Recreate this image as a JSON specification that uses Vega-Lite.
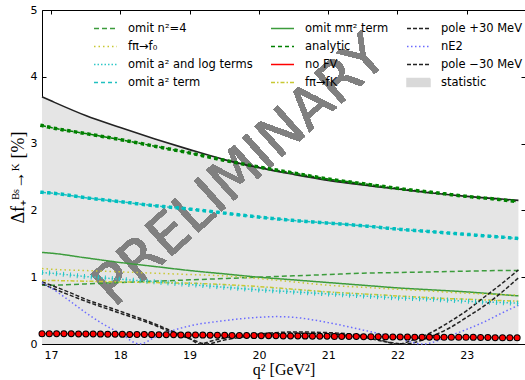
{
  "$schema": "https://vega.github.io/schema/vega-lite/v6.json",
  "autosize": {"type": "none"},
  "width": 483,
  "height": 334,
  "padding": {"left": 42, "top": 10, "right": 0, "bottom": 36},
  "background": "white",
  "config": {
    "view": {"stroke": null},
    "axis": {"domainColor": "black", "tickColor": "black", "labelColor": "black", "labelFont": "DejaVu Sans", "labelFontSize": 11, "grid": false, "titleColor": "black", "tickSize": -4, "labelFlush": false}
  },
  "datasets": {
    "d": [
      {"s":"st","x":16.87,"y":3.70},{"s":"st","x":17,"y":3.64},{"s":"st","x":17.5,"y":3.42},{"s":"st","x":18,"y":3.24},{"s":"st","x":18.5,"y":3.07},{"s":"st","x":19,"y":2.91},{"s":"st","x":19.5,"y":2.76},{"s":"st","x":20,"y":2.64},{"s":"st","x":20.5,"y":2.54},{"s":"st","x":21,"y":2.45},{"s":"st","x":21.5,"y":2.38},{"s":"st","x":22,"y":2.32},{"s":"st","x":22.5,"y":2.26},{"s":"st","x":23,"y":2.21},{"s":"st","x":23.5,"y":2.17},{"s":"st","x":23.745,"y":2.15},
      {"s":"an","x":16.87,"y":3.27},{"s":"an","x":17,"y":3.24},{"s":"an","x":17.5,"y":3.15},{"s":"an","x":18,"y":3.06},{"s":"an","x":18.5,"y":2.96},{"s":"an","x":19,"y":2.86},{"s":"an","x":19.5,"y":2.75},{"s":"an","x":20,"y":2.65},{"s":"an","x":20.5,"y":2.56},{"s":"an","x":21,"y":2.47},{"s":"an","x":21.5,"y":2.40},{"s":"an","x":22,"y":2.33},{"s":"an","x":22.5,"y":2.27},{"s":"an","x":23,"y":2.21},{"s":"an","x":23.5,"y":2.16},{"s":"an","x":23.745,"y":2.13},
      {"s":"a2","x":16.87,"y":2.27},{"s":"a2","x":17,"y":2.26},{"s":"a2","x":17.5,"y":2.19},{"s":"a2","x":18,"y":2.13},{"s":"a2","x":18.5,"y":2.07},{"s":"a2","x":19,"y":2.02},{"s":"a2","x":19.5,"y":1.96},{"s":"a2","x":20,"y":1.90},{"s":"a2","x":20.5,"y":1.85},{"s":"a2","x":21,"y":1.81},{"s":"a2","x":21.5,"y":1.77},{"s":"a2","x":22,"y":1.72},{"s":"a2","x":22.5,"y":1.68},{"s":"a2","x":23,"y":1.64},{"s":"a2","x":23.5,"y":1.60},{"s":"a2","x":23.745,"y":1.58},
      {"s":"mp","x":16.87,"y":1.37},{"s":"mp","x":17,"y":1.36},{"s":"mp","x":17.5,"y":1.29},{"s":"mp","x":18,"y":1.22},{"s":"mp","x":18.5,"y":1.16},{"s":"mp","x":19,"y":1.10},{"s":"mp","x":19.5,"y":1.05},{"s":"mp","x":20,"y":1.00},{"s":"mp","x":20.5,"y":0.96},{"s":"mp","x":21,"y":0.92},{"s":"mp","x":21.5,"y":0.88},{"s":"mp","x":22,"y":0.84},{"s":"mp","x":22.5,"y":0.81},{"s":"mp","x":23,"y":0.78},{"s":"mp","x":23.5,"y":0.74},{"s":"mp","x":23.745,"y":0.72},
      {"s":"n2","x":16.87,"y":0.88},{"s":"n2","x":17,"y":0.88},{"s":"n2","x":17.5,"y":0.90},{"s":"n2","x":18,"y":0.92},{"s":"n2","x":18.5,"y":0.94},{"s":"n2","x":19,"y":0.96},{"s":"n2","x":19.5,"y":0.98},{"s":"n2","x":20,"y":1.00},{"s":"n2","x":20.5,"y":1.02},{"s":"n2","x":21,"y":1.04},{"s":"n2","x":21.5,"y":1.06},{"s":"n2","x":22,"y":1.07},{"s":"n2","x":22.5,"y":1.08},{"s":"n2","x":23,"y":1.09},{"s":"n2","x":23.5,"y":1.10},{"s":"n2","x":23.745,"y":1.10},
      {"s":"al","x":16.87,"y":1.07},{"s":"al","x":17,"y":1.06},{"s":"al","x":17.5,"y":1.01},{"s":"al","x":18,"y":0.97},{"s":"al","x":18.5,"y":0.93},{"s":"al","x":19,"y":0.89},{"s":"al","x":19.5,"y":0.85},{"s":"al","x":20,"y":0.81},{"s":"al","x":20.5,"y":0.78},{"s":"al","x":21,"y":0.75},{"s":"al","x":21.5,"y":0.72},{"s":"al","x":22,"y":0.69},{"s":"al","x":22.5,"y":0.67},{"s":"al","x":23,"y":0.64},{"s":"al","x":23.5,"y":0.62},{"s":"al","x":23.745,"y":0.61},
      {"s":"f0","x":16.87,"y":1.13},{"s":"f0","x":17,"y":1.12},{"s":"f0","x":17.5,"y":1.10},{"s":"f0","x":18,"y":1.08},{"s":"f0","x":18.5,"y":1.06},{"s":"f0","x":19,"y":1.04},{"s":"f0","x":19.5,"y":1.02},{"s":"f0","x":20,"y":0.98},{"s":"f0","x":20.5,"y":0.93},{"s":"f0","x":21,"y":0.88},{"s":"f0","x":21.5,"y":0.85},{"s":"f0","x":22,"y":0.82},{"s":"f0","x":22.5,"y":0.79},{"s":"f0","x":23,"y":0.76},{"s":"f0","x":23.5,"y":0.74},{"s":"f0","x":23.745,"y":0.73},
      {"s":"fk","x":16.87,"y":0.95},{"s":"fk","x":17,"y":0.95},{"s":"fk","x":17.5,"y":0.94},{"s":"fk","x":18,"y":0.93},{"s":"fk","x":18.5,"y":0.92},{"s":"fk","x":19,"y":0.91},{"s":"fk","x":19.5,"y":0.89},{"s":"fk","x":20,"y":0.86},{"s":"fk","x":20.5,"y":0.82},{"s":"fk","x":21,"y":0.78},{"s":"fk","x":21.5,"y":0.75},{"s":"fk","x":22,"y":0.72},{"s":"fk","x":22.5,"y":0.69},{"s":"fk","x":23,"y":0.67},{"s":"fk","x":23.5,"y":0.65},{"s":"fk","x":23.745,"y":0.64},
      {"s":"nf","x":16.87,"y":0.155},{"s":"nf","x":17,"y":0.155},{"s":"nf","x":17.5,"y":0.15},{"s":"nf","x":18,"y":0.145},{"s":"nf","x":18.5,"y":0.14},{"s":"nf","x":19,"y":0.135},{"s":"nf","x":19.5,"y":0.13},{"s":"nf","x":20,"y":0.125},{"s":"nf","x":20.5,"y":0.12},{"s":"nf","x":21,"y":0.115},{"s":"nf","x":21.5,"y":0.11},{"s":"nf","x":22,"y":0.105},{"s":"nf","x":22.5,"y":0.10},{"s":"nf","x":23,"y":0.10},{"s":"nf","x":23.5,"y":0.095},{"s":"nf","x":23.745,"y":0.095},
      {"s":"pp","x":16.87,"y":0.93},{"s":"pp","x":17.25,"y":0.78},{"s":"pp","x":17.5,"y":0.67},{"s":"pp","x":18,"y":0.49},{"s":"pp","x":18.5,"y":0.30},{"s":"pp","x":18.75,"y":0.19},{"s":"pp","x":19,"y":0.08},{"s":"pp","x":19.15,"y":0.0},{"s":"pp","x":19.3,"y":0.04},{"s":"pp","x":19.5,"y":0.09},{"s":"pp","x":20,"y":0.15},{"s":"pp","x":20.5,"y":0.18},{"s":"pp","x":21,"y":0.17},{"s":"pp","x":21.5,"y":0.12},{"s":"pp","x":21.75,"y":0.06},{"s":"pp","x":22,"y":0.0},{"s":"pp","x":22.25,"y":0.07},{"s":"pp","x":22.5,"y":0.18},{"s":"pp","x":22.75,"y":0.33},{"s":"pp","x":23,"y":0.50},{"s":"pp","x":23.25,"y":0.70},{"s":"pp","x":23.5,"y":0.90},{"s":"pp","x":23.745,"y":1.11},
      {"s":"pm","x":16.87,"y":0.90},{"s":"pm","x":17.25,"y":0.74},{"s":"pm","x":17.5,"y":0.64},{"s":"pm","x":18,"y":0.46},{"s":"pm","x":18.5,"y":0.28},{"s":"pm","x":18.75,"y":0.17},{"s":"pm","x":19,"y":0.08},{"s":"pm","x":19.25,"y":0.0},{"s":"pm","x":19.5,"y":0.06},{"s":"pm","x":20,"y":0.13},{"s":"pm","x":20.5,"y":0.16},{"s":"pm","x":21,"y":0.15},{"s":"pm","x":21.5,"y":0.10},{"s":"pm","x":21.85,"y":0.03},{"s":"pm","x":22.1,"y":0.0},{"s":"pm","x":22.5,"y":0.12},{"s":"pm","x":22.75,"y":0.24},{"s":"pm","x":23,"y":0.40},{"s":"pm","x":23.25,"y":0.57},{"s":"pm","x":23.5,"y":0.77},{"s":"pm","x":23.745,"y":0.99},
      {"s":"ne","x":16.87,"y":0.92},{"s":"ne","x":17,"y":0.84},{"s":"ne","x":17.25,"y":0.66},{"s":"ne","x":17.5,"y":0.47},{"s":"ne","x":17.75,"y":0.30},{"s":"ne","x":18,"y":0.16},{"s":"ne","x":18.28,"y":0.0},{"s":"ne","x":18.5,"y":0.10},{"s":"ne","x":18.75,"y":0.20},{"s":"ne","x":19,"y":0.27},{"s":"ne","x":19.5,"y":0.35},{"s":"ne","x":20,"y":0.40},{"s":"ne","x":20.25,"y":0.41},{"s":"ne","x":20.5,"y":0.40},{"s":"ne","x":21,"y":0.32},{"s":"ne","x":21.5,"y":0.21},{"s":"ne","x":22,"y":0.09},{"s":"ne","x":22.37,"y":0.0},{"s":"ne","x":22.75,"y":0.12},{"s":"ne","x":23,"y":0.22},{"s":"ne","x":23.25,"y":0.33},{"s":"ne","x":23.5,"y":0.46},{"s":"ne","x":23.745,"y":0.58}
    ]
  },
  "data": {"name": "d"},
  "layer": [
    {
      "transform": [{"filter": "datum.s === 'st'"}],
      "mark": {"type": "area", "color": "#e5e5e5", "interpolate": "monotone"},
      "encoding": {
        "x": {"field": "x", "type": "quantitative", "scale": {"domain": [16.87, 23.84], "nice": false, "zero": false},
          "axis": {"orient": "bottom", "values": [17, 18, 19, 20, 21, 22, 23], "title": "q² [GeV²]", "titleFont": "Liberation Serif", "titleFontSize": 16, "titleFontWeight": "normal", "titlePadding": 1, "labelPadding": 9}},
        "y": {"field": "y", "type": "quantitative", "scale": {"domain": [0, 5], "nice": false, "zero": false},
          "axis": {"orient": "left", "values": [0, 1, 2, 3, 4, 5], "title": "Δf₊ᴮˢ→ᴷ [%]", "titleFont": "Liberation Serif", "titleFontSize": 18, "titleFontWeight": "normal", "titlePadding": 3, "labelPadding": 9}}
      }
    },
    {
      "mark": {"type": "text", "text": "PRELIMINARY", "angle": -42, "fontSize": 56, "font": "DejaVu Sans", "color": "#808080", "opacity": 0.3, "align": "center", "baseline": "middle"},
      "encoding": {"x": {"datum": 19.73, "type": "quantitative", "axis": null}, "y": {"datum": 2.58, "type": "quantitative", "axis": null}}
    },
    {
      "mark": {"type": "point", "opacity": 0},
      "transform": [{"filter": "datum.s === 'st'"}],
      "encoding": {
        "x": {"field": "x", "type": "quantitative", "axis": {"orient": "top", "values": [17, 18, 19, 20, 21, 22, 23], "labels": false, "title": null}},
        "y": {"field": "y", "type": "quantitative", "axis": {"orient": "right", "values": [0, 1, 2, 3, 4, 5], "labels": false, "title": null, "domain": false}}
      }
    },
    {
      "transform": [{"filter": "datum.s !== 'st'"}],
      "mark": {"type": "line", "strokeWidth": 1.5, "interpolate": "monotone"},
      "encoding": {
        "x": {"field": "x", "type": "quantitative", "axis": null},
        "y": {"field": "y", "type": "quantitative", "axis": null},
        "color": {"field": "s", "type": "nominal",
          "scale": {"domain": ["n2", "f0", "al", "a2", "mp", "an", "nf", "fk", "pp", "ne", "pm", "st"],
            "range": ["#3c9c3c", "#c8c832", "#30c8c8", "#20c0c0", "#3c9c3c", "#008000", "#ff0000", "#c8c832", "#222222", "#6b6bff", "#222222", "#d9d9d9"]},
          "legend": {"orient": "none", "legendX": 51, "legendY": 6, "columns": 3, "columnPadding": 15, "rowPadding": -3, "symbolSize": 529, "symbolStrokeWidth": 1.5, "labelFont": "DejaVu Sans", "labelFontSize": 11.5, "labelColor": "black", "labelOffset": 10, "labelLimit": 300, "title": null,
            "labelExpr": "{'n2':'omit n²=4','mp':'omit mπ² term','pp':'pole +30 MeV','f0':'fπ→f₀','an':'analytic','ne':'nE2','al':'omit a² and log terms','nf':'no FV','pm':'pole −30 MeV','a2':'omit a² term','fk':'fπ→fK','st':'statistic'}[datum.value]",
            "encode": {"symbols": {"update": {"shape": {"signal": "datum.value === 'st' ? 'M-1,-0.35H1V0.35H-1Z' : 'stroke'"}, "fill": {"signal": "datum.value === 'st' ? '#d9d9d9' : 'transparent'"}}}}}},
        "strokeDash": {"field": "s", "type": "nominal",
          "scale": {"domain": ["n2", "f0", "al", "a2", "mp", "an", "nf", "fk", "pp", "ne", "pm", "st"],
            "range": [[5, 3], [1.5, 3], [1.5, 2], [4, 3], [1, 0], [4, 3], [1, 0], [4, 2, 1.5, 2], [4, 2], [1.5, 2.5], [4, 2], [1, 0]]},
          "legend": {"orient": "none", "legendX": 51, "legendY": 6, "columns": 3, "columnPadding": 15, "rowPadding": -3, "symbolSize": 529, "symbolStrokeWidth": 1.5, "labelFont": "DejaVu Sans", "labelFontSize": 11.5, "labelColor": "black", "labelOffset": 10, "labelLimit": 300, "title": null,
            "labelExpr": "{'n2':'omit n²=4','mp':'omit mπ² term','pp':'pole +30 MeV','f0':'fπ→f₀','an':'analytic','ne':'nE2','al':'omit a² and log terms','nf':'no FV','pm':'pole −30 MeV','a2':'omit a² term','fk':'fπ→fK','st':'statistic'}[datum.value]",
            "encode": {"symbols": {"update": {"shape": {"signal": "datum.value === 'st' ? 'M-1,-0.35H1V0.35H-1Z' : 'stroke'"}, "fill": {"signal": "datum.value === 'st' ? '#d9d9d9' : 'transparent'"}}}}}}
      }
    },
    {
      "transform": [{"filter": "datum.s === 'st'"}],
      "mark": {"type": "line", "color": "#222222", "strokeWidth": 1.6, "interpolate": "monotone"},
      "encoding": {"x": {"field": "x", "type": "quantitative", "axis": null}, "y": {"field": "y", "type": "quantitative", "axis": null}}
    },
    {
      "transform": [{"filter": "datum.s === 'an'"}],
      "mark": {"type": "line", "color": "#008000", "strokeWidth": 3.5, "strokeCap": "square", "strokeDash": [0.01, 6.8], "interpolate": "monotone"},
      "encoding": {"x": {"field": "x", "type": "quantitative", "axis": null}, "y": {"field": "y", "type": "quantitative", "axis": null}}
    },
    {
      "transform": [{"filter": "datum.s === 'a2'"}],
      "mark": {"type": "line", "color": "#00bfbf", "strokeWidth": 3.5, "strokeCap": "square", "strokeDash": [0.01, 6.8], "interpolate": "monotone"},
      "encoding": {"x": {"field": "x", "type": "quantitative", "axis": null}, "y": {"field": "y", "type": "quantitative", "axis": null}}
    },
    {
      "transform": [{"filter": "datum.s === 'al'"}],
      "mark": {"type": "line", "color": "#20c4c4", "strokeWidth": 5, "strokeCap": "butt", "strokeDash": [1, 6], "interpolate": "monotone"},
      "encoding": {"x": {"field": "x", "type": "quantitative", "axis": null}, "y": {"field": "y", "type": "quantitative", "axis": null}}
    },
    {
      "transform": [{"filter": "datum.s === 'nf'"}],
      "mark": {"type": "line", "color": "black", "strokeWidth": 7, "strokeCap": "round", "strokeDash": [0.01, 7.3], "interpolate": "monotone"},
      "encoding": {"x": {"field": "x", "type": "quantitative", "axis": null}, "y": {"field": "y", "type": "quantitative", "axis": null}}
    },
    {
      "transform": [{"filter": "datum.s === 'nf'"}],
      "mark": {"type": "line", "color": "#ff0000", "strokeWidth": 5, "strokeCap": "round", "strokeDash": [0.01, 7.3], "interpolate": "monotone"},
      "encoding": {"x": {"field": "x", "type": "quantitative", "axis": null}, "y": {"field": "y", "type": "quantitative", "axis": null}}
    }
  ],
  "resolve": {"axis": {"x": "independent", "y": "independent"}}
}
